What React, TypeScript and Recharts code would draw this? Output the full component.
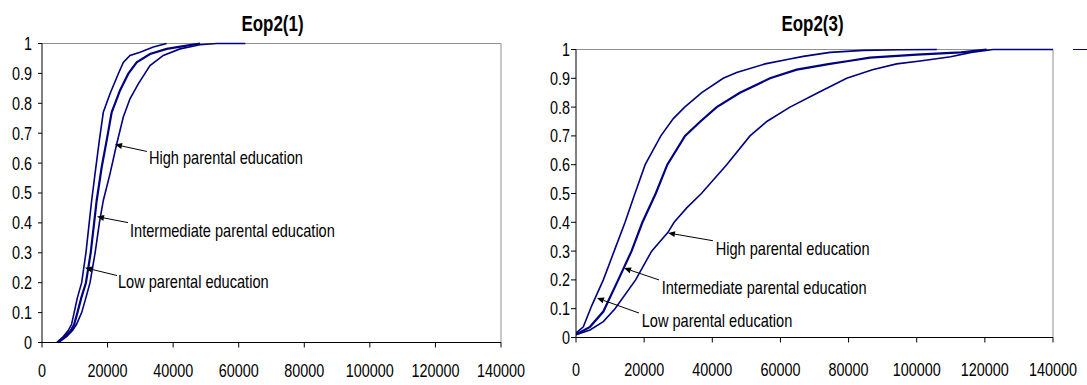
import React from 'react';
import { LineChart, Line, XAxis, YAxis, CartesianGrid, ReferenceLine, ReferenceDot } from 'recharts';

const FONT = "'Liberation Sans', Arial, sans-serif";
const NAVY = '#000080';
const SX = 0.8; // the original text is set in a narrow face

// axis ticks (shared)
const xTicks = [0, 20000, 40000, 60000, 80000, 100000, 120000, 140000];
const yTicks = [0, 0.1, 0.2, 0.3, 0.4, 0.5, 0.6, 0.7, 0.8, 0.9, 1];
const noteLabels = ['High parental education', 'Intermediate parental education', 'Low parental education'];

// Eop2(1) - cumulative distributions
const lowX1 = [4500, 6500, 8000, 9000, 9800, 10800, 12100, 13400, 14400, 15150, 16170, 17490, 18700, 20740, 23280, 24800, 26840, 29900, 33950, 38000];
const lowY1 = [0, 0.02, 0.04, 0.06, 0.1, 0.15, 0.2, 0.3, 0.4, 0.475, 0.564, 0.676, 0.77, 0.832, 0.899, 0.937, 0.96, 0.971, 0.988, 1];
const midX1 = [4800, 7000, 8800, 9800, 10800, 12000, 13400, 14850, 15900, 16680, 18200, 19730, 21250, 23790, 26330, 28880, 32940, 38030, 44130, 48200];
const midY1 = [0, 0.02, 0.04, 0.06, 0.1, 0.15, 0.2, 0.3, 0.4, 0.475, 0.586, 0.676, 0.77, 0.843, 0.899, 0.937, 0.965, 0.982, 0.993, 1];
const highX1 = [5000, 7500, 9300, 10500, 12100, 13400, 14650, 16200, 17500, 18700, 20740, 22780, 24800, 26840, 29370, 32940, 37000, 42090, 48190, 53300, 62000];
const highY1 = [0, 0.02, 0.04, 0.06, 0.1, 0.15, 0.2, 0.3, 0.4, 0.475, 0.564, 0.664, 0.754, 0.815, 0.865, 0.926, 0.96, 0.982, 0.996, 1, 1];

// Eop2(1) annotations: text anchor, arrow start, arrow tip (high, intermediate, low)
const textX1 = [32640, 26840, 23180];
const textY1 = [0.619, 0.375, 0.205];
const fromX1 = [32000, 26230, 22880];
const fromY1 = [0.639, 0.401, 0.224];
const tipX1 = [22270, 16780, 13120];
const tipY1 = [0.662, 0.421, 0.25];

// Eop2(3) - cumulative distributions
const lowX3 = [0, 2150, 4600, 8020, 11200, 14400, 17300, 20300, 24900, 28560, 31900, 36900, 43200, 47160, 55500, 62000, 66700, 74550, 84330, 95000, 105900];
const lowY3 = [0.015, 0.037, 0.11, 0.2, 0.3, 0.4, 0.5, 0.6, 0.7, 0.76, 0.8, 0.85, 0.9, 0.92, 0.95, 0.965, 0.976, 0.99, 0.997, 0.999, 1];
const midX3 = [0, 4110, 8020, 12400, 16300, 19500, 23400, 26800, 32000, 36500, 41300, 48100, 56940, 64780, 74500, 80000, 86290, 100000, 113000, 120500];
const midY3 = [0.01, 0.037, 0.09, 0.2, 0.3, 0.4, 0.5, 0.6, 0.7, 0.75, 0.8, 0.85, 0.9, 0.93, 0.95, 0.96, 0.972, 0.982, 0.99, 1];
const highX3 = [0, 4110, 8020, 11450, 17500, 22200, 27000, 28800, 32500, 36800, 44230, 51070, 56000, 62800, 71000, 79450, 87000, 94100, 101000, 110000, 116000, 122400, 140000];
const highY3 = [0.01, 0.026, 0.055, 0.1, 0.2, 0.3, 0.365, 0.4, 0.45, 0.5, 0.6, 0.7, 0.75, 0.8, 0.85, 0.9, 0.93, 0.95, 0.96, 0.975, 0.99, 1, 1];

const textX3 = [41000, 25150, 19280];
const textY3 = [0.311, 0.175, 0.061];
const fromX3 = [40200, 24360, 18490];
const fromY3 = [0.336, 0.2, 0.085];
const tipX3 = [27000, 14090, 6160];
const tipY3 = [0.363, 0.241, 0.137];

const zip = (xs: number[], ys: number[]) => xs.map((x, i) => ({ x, y: ys[i] }));

const Arrow = (p: any) => {
  const { x1, y1, x2, y2 } = p;
  const dx = x2 - x1;
  const dy = y2 - y1;
  const len = Math.sqrt(dx * dx + dy * dy) || 1;
  const ux = dx / len;
  const uy = dy / len;
  const bx = x2 - ux * 7;
  const by = y2 - uy * 7;
  const head = `${x2},${y2} ${bx - uy * 3},${by + ux * 3} ${bx + uy * 3},${by - ux * 3}`;
  return (
    <g>
      <line x1={x1} y1={y1} x2={bx} y2={by} stroke="#000" strokeWidth={1} />
      <polygon points={head} fill="#000" />
    </g>
  );
};

const XTick = (p: any) => (
  <g transform={`translate(${p.x},${p.y}) scale(${SX},1)`}>
    <text textAnchor="middle" dy="0.71em" fontSize={18} fontFamily={FONT} fill="#000">
      {p.payload.value}
    </text>
  </g>
);

const YTick = (p: any) => (
  <g transform={`translate(${p.x},${p.y}) scale(${SX},1)`}>
    <text textAnchor="end" dy="0.355em" fontSize={18} fontFamily={FONT} fill="#000">
      {p.payload.value}
    </text>
  </g>
);

type PanelProps = {
  width: number;
  height: number;
  margin: { top: number; right: number; bottom: number; left: number };
  yWidth: number;
  yTickSize: number;
  yTickMargin: number;
  xTickMargin: number;
  series: { x: number; y: number }[][];
  textX: number[];
  textY: number[];
  fromX: number[];
  fromY: number[];
  tipX: number[];
  tipY: number[];
};

const Panel = (props: PanelProps) => (
  <LineChart width={props.width} height={props.height} margin={props.margin}>
    <CartesianGrid
      stroke="#909090"
      horizontalCoordinatesGenerator={(g: any) => [g.offset.top]}
      verticalCoordinatesGenerator={(g: any) => [g.offset.left + g.offset.width]}
    />
    <XAxis
      dataKey="x"
      type="number"
      domain={[0, 140000]}
      ticks={xTicks}
      interval={0}
      allowDataOverflow
      stroke="#000"
      tickSize={5}
      tickMargin={props.xTickMargin}
      height={30}
      tick={<XTick />}
    />
    <YAxis
      type="number"
      domain={[0, 1]}
      ticks={yTicks}
      interval={0}
      stroke="#000"
      width={props.yWidth}
      tickSize={props.yTickSize}
      tickMargin={props.yTickMargin}
      tick={<YTick />}
    />
    {props.series.map((d, i) => (
      <Line
        key={i}
        data={d}
        dataKey="y"
        type="linear"
        stroke={NAVY}
        strokeWidth={i === 1 ? 2.2 : 1.6}
        dot={false}
        isAnimationActive={false}
      />
    ))}
    {noteLabels.map((t, i) => (
      <ReferenceLine
        key={'a' + i}
        segment={[{ x: props.fromX[i], y: props.fromY[i] }, { x: props.tipX[i], y: props.tipY[i] }]}
        shape={Arrow}
      />
    ))}
    {noteLabels.map((t, i) => (
      <ReferenceDot
        key={'t' + i}
        x={props.textX[i]}
        y={props.textY[i]}
        r={0}
        shape={(p: any) => (
          <g transform={`translate(${p.cx},${p.cy}) scale(0.81,1)`}>
            <text dominantBaseline="central" fontSize={18} fontFamily={FONT} fill="#000">
              {t}
            </text>
          </g>
        )}
      />
    ))}
  </LineChart>
);

export default function App() {
  return (
    <div style={{ position: 'absolute', left: 0, top: 0, width: 1087, height: 385, background: '#fff', overflow: 'hidden' }}>
      <div style={{ position: 'absolute', left: 0, top: 0 }}>
        <Panel
          width={540}
          height={385}
          margin={{ top: 43.5, right: 39, bottom: 12.5, left: 0 }}
          yWidth={42}
          yTickSize={4}
          yTickMargin={6}
          xTickMargin={17}
          series={[zip(lowX1, lowY1), zip(midX1, midY1), zip(highX1, highY1)]}
          textX={textX1}
          textY={textY1}
          fromX={fromX1}
          fromY={fromY1}
          tipX={tipX1}
          tipY={tipY1}
        />
      </div>
      <div style={{ position: 'absolute', left: 540, top: 0 }}>
        <Panel
          width={547}
          height={385}
          margin={{ top: 49.5, right: 34, bottom: 17.5, left: 0 }}
          yWidth={36}
          yTickSize={5}
          yTickMargin={1}
          xTickMargin={21}
          series={[zip(lowX3, lowY3), zip(midX3, midY3), zip(highX3, highY3)]}
          textX={textX3}
          textY={textY3}
          fromX={fromX3}
          fromY={fromY3}
          tipX={tipX3}
          tipY={tipY3}
        />
      </div>
      <svg width={1087} height={40} style={{ position: 'absolute', left: 0, top: 0 }}>
        <g transform="translate(272.5,31) scale(0.77,1)">
          <text textAnchor="middle" fontSize={22} fontWeight="bold" fontFamily={FONT} fill="#000">Eop2(1)</text>
        </g>
        <g transform="translate(812.5,31) scale(0.77,1)">
          <text textAnchor="middle" fontSize={22} fontWeight="bold" fontFamily={FONT} fill="#000">Eop2(3)</text>
        </g>
      </svg>
      <div style={{ position: 'absolute', left: 1073, top: 49, width: 14, height: 0, borderTop: `1.5px solid ${NAVY}` }} />
    </div>
  );
}
